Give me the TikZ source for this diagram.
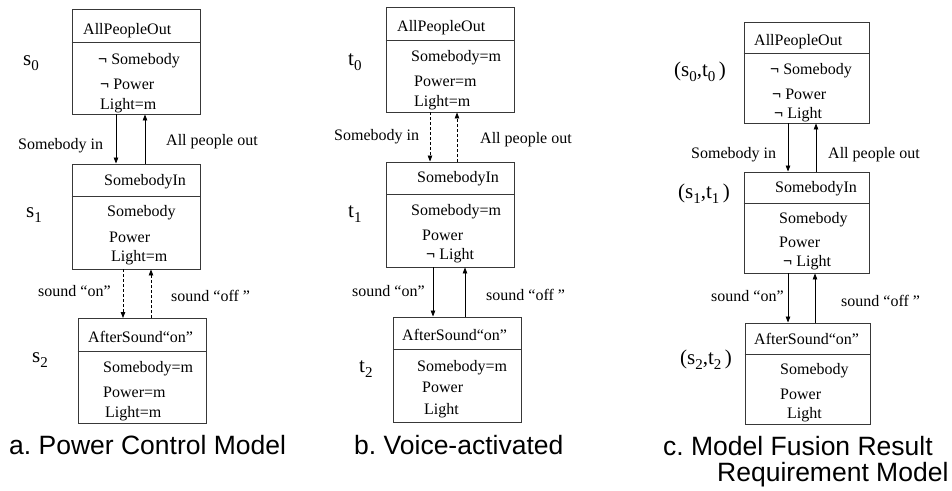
\documentclass[tikz,border=0pt]{standalone}
\usepackage{fontspec}
\setmainfont{Liberation Serif}
\newfontfamily\capfont{Liberation Sans}
\usetikzlibrary{arrows.meta}
\newcommand\idx[1]{\raisebox{-0.25em}{\fontsize{15}{15}\selectfont #1}}
\newcommand\negsym{\textbf{¬}}
\frenchspacing

\begin{document}
\begin{tikzpicture}[x=1pt,y=-1pt,
  statebox/.style={draw=black!78, line width=0.9pt, minimum width=128pt,
    minimum height=105pt, inner sep=0pt},
  narrowbox/.style={statebox, minimum width=125pt, minimum height=101pt},
  divider/.style={draw=black!78, line width=0.9pt},
  txt/.style={anchor=west, inner sep=0pt, font=\fontsize{16}{16}\selectfont,
    text height=11pt, text depth=3pt},
  statelbl/.style={anchor=base west, inner sep=0pt, font=\fontsize{21}{21}\selectfont},
  caption/.style={anchor=base west, inner sep=0pt, font=\capfont\fontsize{26.5}{26.5}\selectfont},
  arr/.style={line width=0.8pt, -{Triangle[length=6pt,width=4.5pt]}},
  darr/.style={arr, dash pattern=on 3pt off 2pt}]

\useasboundingbox[fill=white] (0,0) rectangle (952,490);

% ---------------- a. Power Control Model ----------------
\node[statebox] (a0) at (136,61.5) {};
\node[statebox] (a1) at (136,216.5) {};
\node[statebox] (a2) at (142,371) {};
\draw[divider] (a0.west |- 0,42) -- (a0.east |- 0,42);
\draw[divider] (a1.west |- 0,196) -- (a1.east |- 0,196);
\draw[divider] (a2.west |- 0,351) -- (a2.east |- 0,351);

\node[txt] (a0t) at (83,30) {AllPeopleOut};
\node[txt] (a0l1) at (98,60) {\negsym\ Somebody};
\node[txt] (a0l2) at (100,85) {\negsym\ Power};
\node[txt] (a0l3) at (100,105) {Light=m};

\node[txt] (a1t) at (104,181) {SomebodyIn};
\node[txt] (a1l1) at (107,212) {Somebody};
\node[txt] (a1l2) at (109,238) {Power};
\node[txt] (a1l3) at (111,257) {Light=m};

\node[txt] (a2t) at (88,338) {AfterSound“on”};
\node[txt] (a2l1) at (103,368) {Somebody=m};
\node[txt] (a2l2) at (103,393) {Power=m};
\node[txt] (a2l3) at (105,413) {Light=m};

\node[statelbl] (s0) at (23,65) {s\idx{0}};
\node[statelbl] (s1) at (26,217) {s\idx{1}};
\node[statelbl] (s2) at (32,362) {s\idx{2}};

\draw[arr] (a0.south -| 116,0) -- (a1.north -| 116,0);
\draw[arr] (a1.north -| 145,0) -- (a0.south -| 145,0);
\draw[darr] (a1.south -| 123,0) -- (a2.north -| 123,0);
\draw[darr] (a2.north -| 151,0) -- (a1.south -| 151,0);

\node[txt] (ea1) at (18,145) {Somebody in};
\node[txt] (ea2) at (166,141) {All people out};
\node[txt] (ea3) at (38,292) {sound “on”};
\node[txt] (ea4) at (171,297) {sound “off ”};

\node[caption] (capa) at (9,454) {a. Power Control Model};

% ---------------- b. Voice-activated ----------------
\node[statebox] (b0) at (450,59.5) {};
\node[statebox] (b1) at (450.5,214.5) {};
\node[statebox] (b2) at (457,369.5) {};
\draw[divider] (b0.west |- 0,40) -- (b0.east |- 0,40);
\draw[divider] (b1.west |- 0,194) -- (b1.east |- 0,194);
\draw[divider] (b2.west |- 0,349) -- (b2.east |- 0,349);

\node[txt] (b0t) at (397,27) {AllPeopleOut};
\node[txt] (b0l1) at (411,57) {Somebody=m};
\node[txt] (b0l2) at (414,82) {Power=m};
\node[txt] (b0l3) at (414,102) {Light=m};

\node[txt] (b1t) at (417,178) {SomebodyIn};
\node[txt] (b1l1) at (411,211) {Somebody=m};
\node[txt] (b1l2) at (422,236) {Power};
\node[txt] (b1l3) at (426,255) {\negsym\ Light};

\node[txt] (b2t) at (402,336) {AfterSound“on”};
\node[txt] (b2l1) at (417,367) {Somebody=m};
\node[txt] (b2l2) at (422,388) {Power};
\node[txt] (b2l3) at (424,410) {Light};

\node[statelbl] (t0) at (348,65) {t\idx{0}};
\node[statelbl] (t1) at (348,217) {t\idx{1}};
\node[statelbl] (t2) at (359,372) {t\idx{2}};

\draw[darr] (b0.south -| 430,0) -- (b1.north -| 430,0);
\draw[darr] (b1.north -| 457,0) -- (b0.south -| 457,0);
\draw[arr] (b1.south -| 433,0) -- (b2.north -| 433,0);
\draw[arr] (b2.north -| 465,0) -- (b1.south -| 465,0);

\node[txt] (eb1) at (334,136) {Somebody in};
\node[txt] (eb2) at (480,139) {All people out};
\node[txt] (eb3) at (352,292) {sound “on”};
\node[txt] (eb4) at (486,296) {sound “off ”};

\node[caption] (capb) at (354,454) {b. Voice-activated};

% ---------------- c. Model Fusion Result ----------------
\node[narrowbox] (c0) at (806.5,72.5) {};
\node[narrowbox] (c1) at (806.5,222.5) {};
\node[narrowbox] (c2) at (807.5,373.5) {};
\draw[divider] (c0.west |- 0,53) -- (c0.east |- 0,53);
\draw[divider] (c1.west |- 0,203) -- (c1.east |- 0,203);
\draw[divider] (c2.west |- 0,354) -- (c2.east |- 0,354);

\node[txt] (c0t) at (754,41) {AllPeopleOut};
\node[txt] (c0l1) at (770,70) {\negsym\ Somebody};
\node[txt] (c0l2) at (772,95) {\negsym\ Power};
\node[txt] (c0l3) at (774,114) {\negsym\ Light};

\node[txt] (c1t) at (775,188) {SomebodyIn};
\node[txt] (c1l1) at (779,219) {Somebody};
\node[txt] (c1l2) at (779,243) {Power};
\node[txt] (c1l3) at (783,262) {\negsym\ Light};

\node[txt] (c2t) at (754,340) {AfterSound“on”};
\node[txt] (c2l1) at (780,370) {Somebody};
\node[txt] (c2l2) at (780,395) {Power};
\node[txt] (c2l3) at (787,414) {Light};

\node[statelbl] (st0) at (674,76) {(s\idx{0},t\idx{0}\,)};
\node[statelbl] (st1) at (678,198) {(s\idx{1},t\idx{1}\,)};
\node[statelbl] (st2) at (680,364) {(s\idx{2},t\idx{2}\,)};

\draw[arr] (c0.south -| 788,0) -- (c1.north -| 788,0);
\draw[arr] (c1.north -| 816,0) -- (c0.south -| 816,0);
\draw[arr] (c1.south -| 788,0) -- (c2.north -| 788,0);
\draw[arr] (c2.north -| 815,0) -- (c1.south -| 815,0);

\node[txt] (ec1) at (691,154) {Somebody in};
\node[txt] (ec2) at (828,154) {All people out};
\node[txt] (ec3) at (711,297) {sound “on”};
\node[txt] (ec4) at (841,302) {sound “off ”};

\node[caption] (capc1) at (663,455) {c. Model Fusion Result};
\node[caption] (capc2) at (717,481) {Requirement Model};
\end{tikzpicture}
\end{document}
